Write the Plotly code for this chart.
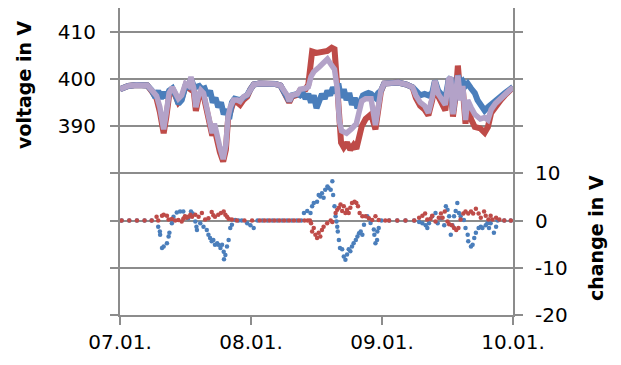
import plotly.graph_objects as go

# ---------------- data (time in hours since 07.01. 00:00) ----------------
day_ticks = [0, 24, 48, 72]
day_labels = ["07.01.", "08.01.", "09.01.", "10.01."]

# purple voltage series
t_purple = [0, 1.5, 3, 5, 5.8, 6.7, 7.3, 8.0, 8.5, 9.0, 9.6, 10.2, 10.7, 11.3, 12.0, 12.6, 13.0, 13.5,
            13.9, 14.4, 14.8, 15.3, 15.8, 16.4, 16.9, 17.3, 17.8, 18.3, 18.9, 19.4, 19.8, 20.2, 20.8,
            21.5, 22.0, 22.6, 23.3, 23.9, 24.5, 25.5, 27, 28.5, 29.4, 30.0, 30.6, 31.0, 31.5, 32.5,
            33.0, 34.0, 34.5, 35.0, 35.5, 36.5, 37.5, 38.0, 38.7, 39.3, 39.8, 40.2, 40.6, 41.5, 42.5,
            43.3, 43.7, 44.3, 45.0, 46.0, 46.8, 47.3, 47.8, 48.4, 49.5, 51, 52.5, 53.6, 54.2, 55,
            55.8, 56.5, 57.2, 57.7, 58.3, 59.0, 59.6, 60.2, 60.6, 61.0, 61.5, 61.9, 62.4, 62.8, 63.3,
            63.7, 64.3, 65.0, 66.0, 66.8, 67.4, 68.0, 68.8, 69.8, 70.5, 71.3, 72]
v_purple = [397.8, 398.5, 398.7, 398.6, 397.6, 396.4, 394, 389.3, 393, 397, 398.2, 397, 395.8, 396.5, 399,
            398.5, 400.4, 398, 394, 396.5, 397.6, 397, 394, 391.5, 388.5, 390.5, 387.5, 385.5, 383,
            386, 392, 394, 395.5, 395.5, 395.2, 396.2, 396.6, 397.8, 398.8, 399, 399, 398.9, 398.6,
            397.5, 396.6, 395.3, 396.5, 396.8, 397.8, 398, 398.3, 400.5, 401.5, 402.5, 403.8, 404.2,
            403, 402, 398, 391, 389, 388.5, 389.5, 390.5, 392.5, 395.3, 395.8, 395.8, 390.2, 394,
            397.5, 399, 399.2, 399.2, 398.8, 398.2, 396.5, 395, 394.3, 392.8, 396, 399.6, 396.8,
            395.5, 394.5, 399.8, 400.3, 392.5, 397, 400.7, 395.4, 398.5, 391.3, 395.5, 394, 392.5,
            391.5, 391.8, 391.3, 393.5, 394.8, 396, 396.8, 397.5, 398.2]

# red voltage series
t_red = [0, 1.5, 3, 5, 5.8, 6.7, 7.3, 8.0, 8.5, 9.0, 9.6, 10.2, 10.7, 11.3, 12.0, 12.6, 13.0, 13.5,
         13.9, 14.4, 14.8, 15.3, 15.8, 16.4, 16.9, 17.3, 17.8, 18.3, 18.9, 19.4, 19.8, 20.2, 20.8,
         21.5, 22.0, 22.6, 23.3, 23.9, 24.5, 25.5, 27, 28.5, 29.4, 30.0, 30.6, 31.0, 31.5, 32.5,
         33.0, 34.0, 34.5, 34.9, 35.2, 36, 37, 38, 38.8, 39.3, 39.7, 40.1, 40.5, 41, 41.6, 42.2,
         42.8, 43.3, 43.7, 44.3, 45, 45.6, 46.0, 46.8, 47.3, 47.8, 48.4, 49.5, 51, 52.5, 53.6,
         54.2, 55, 55.8, 56.5, 57.2, 57.7, 58.3, 59.0, 59.6, 60.2, 60.6, 61.0, 61.5, 61.9, 62.4,
         62.8, 63.3, 63.7, 64.3, 65.0, 66.0, 66.8, 67.4, 68.0, 68.8, 69.8, 70.5, 71.3, 72]
v_red = [397.8, 398.5, 398.7, 398.6, 397.4, 395.8, 393, 388.5, 392, 396.5, 397.8, 396.5, 395, 395.8,
         398.5, 398, 400, 397.5, 393.2, 396, 397.2, 396.5, 393.5, 390.5, 388, 389.5, 386.5, 384.5,
         382.5, 385, 391.5, 393.5, 395.2, 395, 394.5, 395.5, 396.2, 397.8, 398.8, 399, 399, 398.9,
         398.6, 397.3, 396.3, 395, 396.2, 396.6, 397.6, 397.8, 398.8, 403, 405.8, 405.5, 405.6,
         405.9, 406.6, 406.3, 400, 390, 386.5, 385.5, 386.5, 385, 386, 385.2, 387.5, 390, 391.5,
         392.2, 392.5, 389.3, 393, 397.3, 399, 399.2, 399.2, 398.8, 398.2, 396, 394.3, 393.5,
         392.3, 395.5, 399.4, 396.3, 394.5, 393.3, 399.5, 400, 392, 396.5, 402.8, 396, 398, 390.5,
         394.5, 391.5, 389.8, 389.5, 388.6, 389.8, 392.8, 394.3, 395.6, 396.5, 397.3, 398.2]

# blue voltage series
t_blue = [0, 1.5, 3, 5, 5.8, 6.5, 7.0, 7.5, 8.0, 8.5, 9.0, 9.6, 10.2, 10.7, 11.3, 12.0, 12.6, 13.0,
          13.5, 14.0, 14.5, 15, 15.5, 16, 16.5, 17, 17.5, 18, 18.5, 19, 19.5, 20.0, 20.5, 21, 22,
          22.6, 23.3, 23.9, 24.5, 25.5, 27, 28.5, 29.4, 30, 30.6, 31, 31.5, 32.5, 33, 33.5, 34,
          34.5, 35, 35.5, 36, 36.5, 37, 37.5, 38, 38.5, 39, 39.5, 40, 40.5, 41, 41.5, 42, 42.5, 43,
          43.5, 44, 44.5, 45, 45.5, 46, 46.8, 47.3, 47.8, 48.4, 49.5, 51, 52.5, 53.6, 54.2, 55,
          55.8, 56.5, 57.2, 57.7, 58.3, 59, 59.6, 60.2, 60.6, 61, 61.5, 61.9, 62.4, 62.8, 63.3,
          63.7, 64.3, 65, 65.5, 66, 66.8, 67.4, 68, 68.8, 69.8, 70.5, 71.3, 72]
v_blue = [397.8, 398.5, 398.7, 398.6, 397.6, 396, 397.5, 395.8, 397.2, 396, 397.5, 398, 396.5, 394.7,
          395.5, 398.5, 398.3, 400, 398.5, 398.3, 398.5, 397.8, 398, 396.5, 397.5, 395, 396, 394,
          395, 392.5, 393.5, 391.5, 395, 395.8, 395.5, 396.2, 396.6, 397.8, 398.8, 399, 399, 398.9,
          398.6, 397.5, 396.6, 395.3, 396.5, 396.8, 396.5, 397, 395.8, 396.8, 395, 396.5, 393.8,
          395.5, 396.8, 395.8, 397.5, 396.5, 398.2, 397, 399, 396, 397.8, 395.5, 397, 394.5, 396,
          393.8, 395, 396.5, 396.8, 397, 396.8, 396, 397, 397.5, 399, 399.2, 399.2, 398.8, 398.2,
          397.5, 396.5, 396.8, 396.5, 397, 399.6, 397.5, 396.3, 395.8, 399.8, 400.3, 393, 397.5,
          400.7, 399, 399.5, 398.5, 399, 398, 397, 395.5, 394.5, 393.3, 394, 394.5, 395.5, 396.3,
          397, 397.6, 398.3]

# change in V (blue dots)
t_dblue = [0.3, 1.7, 3.1, 4.5, 5.8, 7.0, 7.3, 7.35, 7.7, 8.0, 8.6, 8.9, 9.05, 9.5, 9.8, 10.4, 11.0,
           11.6, 11.9, 12.5, 13.0, 13.3, 13.8, 14.0, 14.1, 14.7, 15.3, 15.9, 16.2, 16.5, 16.8, 17.1,
           17.4, 17.8, 18.0, 18.4, 18.7, 19.0, 19.05, 19.3, 19.6, 19.9, 20.2, 20.5, 21.1, 21.7,
           22.3, 23.3, 23.9, 24.5, 25.2, 26.1, 27.0, 27.9, 28.8, 29.7, 30.6, 31.5, 32.4, 33.2,
           33.7, 34.3, 34.9, 35.2, 35.5, 36.1, 36.4, 36.7, 37.0, 37.3, 37.6, 38.0, 38.2, 38.6,
           38.9, 39.05, 39.3, 39.5, 39.66, 39.8, 39.9, 40.1, 40.3, 40.7, 41.0, 41.3, 41.6, 41.9,
           42.2, 42.5, 42.8, 43.2, 43.5, 43.8, 44.1, 44.4, 44.7, 45.3, 45.9, 46.5, 46.6, 46.8,
           47.1, 47.15, 47.4, 47.9, 49.3, 50.8, 52.3, 53.9, 54.8, 55.4, 56.0, 56.3, 56.6, 57.2,
           57.8, 58.2, 58.8, 59.4, 59.7, 60.0, 60.3, 60.6, 60.9, 61.2, 61.5, 61.8, 62.1, 62.4,
           63.0, 63.3, 63.7, 63.8, 64.3, 64.6, 64.9, 65.2, 65.7, 66.1, 66.4, 67.0, 67.3, 67.6,
           67.9, 68.5, 68.9, 69.2, 70.4, 71.6]
v_dblue = [0, 0, 0, 0, 0, -1.3, -2.3, -3.0, -5.8, -5.5, -4.8, -3.4, -2.6, -0.6, 0.8, 1.7, 1.9, 1.9,
           0.8, 0.5, 1.9, 1.5, -0.2, -1.3, -2.0, -0.6, -1.3, -2.0, -3.0, -3.7, -4.4, -4.1, -5.1,
           -4.8, -5.1, -5.8, -5.1, -6.6, -8.2, -7.3, -5.5, -4.1, -1.6, -0.9, 0.1, 0, 0, -0.6, -1.0,
           -1.6, 0, 0, 0, 0, 0, 0, 0, 0, 0, 0, 1.6, 2.0, 1.6, 3.0, 3.7, 4.0, 5.4, 5.1, 5.8, 4.8,
           6.5, 7.2, 6.9, 6.5, 8.3, 5.4, 3.0, 0.9, -0.2, -1.3, -2.3, -4.1, -5.8, -6.1, -7.6, -8.3,
           -7.2, -6.1, -6.5, -5.5, -4.8, -4.1, -3.4, -2.7, -2.3, -3.0, -0.9, 0.9, -0.5, -1.9, -3.0,
           -4.8, -4.1, -2.3, -1.6, 0, 0, 0, 0, 0, -0.3, -0.6, -1.0, -1.6, -0.6, 0.9, 1.6, -0.6,
           0.5, -1.0, 3.0, 2.3, 0.9, -3.0, -1.0, 0.9, 2.0, 3.7, 1.6, 0.9, 0.1, -1.6, -3.0, -4.4,
           -5.5, -5.1, -3.7, -2.6, -1.6, -1.3, -1.6, -1.0, -0.6, -1.6, -0.6, -2.6, -1.3, 0, 0, 0]

# change in V (red dots)
t_dred = [0.3, 1.7, 3.1, 4.5, 5.8, 6.7, 7.0, 7.7, 8.0, 8.6, 8.9, 9.5, 10.1, 10.7, 11.3, 11.6, 11.9,
          12.2, 12.5, 12.9, 13.2, 13.8, 14.4, 15.0, 15.6, 16.2, 16.8, 17.1, 17.4, 18.0, 18.5, 19.0,
          19.3, 19.6, 19.9, 20.5, 21.4, 22.8, 24.2, 25.6, 26.5, 27.4, 28.3, 29.2, 30.1, 31.0,
          31.9, 32.8, 33.8, 34.4, 34.8, 35.0, 35.2, 35.5, 35.8, 36.1, 36.4, 36.7, 37.0, 37.3,
          37.95, 38.6, 38.9, 39.5, 39.8, 40.1, 40.4, 40.7, 41.0, 41.3, 41.6, 41.9, 42.2, 42.5,
          42.97, 43.3, 43.6, 43.9, 44.4, 45.0, 45.6, 46.2, 46.8, 47.4, 48.6, 49.3, 50.8, 52.3,
          53.9, 54.8, 55.4, 55.9, 56.3, 56.9, 57.2, 57.8, 58.4, 58.8, 59.1, 59.5, 60.0, 60.3,
          60.8, 61.2, 61.6, 62.0, 62.4, 62.9, 63.3, 63.8, 64.3, 64.7, 65.2, 65.7, 66.1, 66.7,
          67.0, 67.5, 67.9, 68.2, 68.9, 69.5, 70.4, 71.6]
v_dred = [0, 0, 0, 0, 0, 0.8, 0, 1.0, 1.2, 1.0, 0.2, 0.3, 0, 0.1, -0.2, 0.4, 0.9, 0.6, 0.8, 1.2, 0.8,
          1.2, 0.8, 1.6, 0.2, 0.5, 1.8, 1.1, 0.8, 1.2, 1.6, 1.9, 1.2, 0.8, 0.4, 0.2, 0, 0, 0, 0, 0,
          0, 0, 0, 0, 0, 0, 0, 0, 0, 0, -0.6, -2.3, -1.6, -3.0, -3.7, -2.6, -3.4, -2.0, -1.3,
          -0.6, 0, -0.3, 1.6, 2.3, 2.7, 3.4, 2.0, 3.0, 1.6, 2.3, 1.6, 2.7, 3.7, 4.0, 3.7, 3.0, 1.6,
          0.9, 0.9, 0.5, 0.1, 0.9, 0.1, 0, 0, 0, 0, 0, 0.6, 1.0, 1.5, 0.2, 0.4, 1.0, -0.2, 0.6,
          1.5, 0.6, 1.9, -0.2, -0.8, -1.0, -1.6, -2.0, -1.6, 0.2, 1.5, 1.9, 1.5, 1.9, 1.5, 2.5,
          1.5, 0.6, 1.9, 1.0, 0.2, 1.0, 0.2, 0.6, 0.2, 0, 0]

left_ticks = [350, 360, 370, 380, 390, 400, 410]
left_labels = ["", "", "", "", "390", "400", "410"]
right_ticks = [-20, -10, 0, 10, 20, 30, 40]
right_labels = ["-20", "-10", "0", "10", "", "", ""]

BLUE = "#4A7EBB"
RED = "#BE4B48"
PURPLE = "#B3A2C8"
GRID = "#8C8C8C"
FONT = "DejaVu Sans"

fig = go.Figure()
fig.add_trace(go.Scatter(x=t_red, y=v_red, mode="lines", line=dict(color=RED, width=6), yaxis="y"))
fig.add_trace(go.Scatter(x=t_blue, y=v_blue, mode="lines", line=dict(color=BLUE, width=6), yaxis="y"))
fig.add_trace(go.Scatter(x=t_purple, y=v_purple, mode="lines", line=dict(color=PURPLE, width=5.5), yaxis="y"))
fig.add_trace(go.Scatter(x=t_dblue, y=v_dblue, mode="markers", marker=dict(color=BLUE, size=4.5), yaxis="y2"))
fig.add_trace(go.Scatter(x=t_dred, y=v_dred, mode="markers", marker=dict(color=RED, size=4.5), yaxis="y2"))

fig.update_layout(
    width=621, height=365,
    margin=dict(l=120, r=108, t=8, b=50),
    paper_bgcolor="white", plot_bgcolor="white",
    showlegend=False,
    font=dict(family=FONT, size=20, color="black"),
    xaxis=dict(range=[0, 72], tickvals=day_ticks, ticktext=day_labels, showgrid=False,
               showline=True, linecolor=GRID, linewidth=2, ticks="outside", ticklen=8,
               tickcolor=GRID, tickwidth=2, zeroline=False, tickfont=dict(size=20)),
    yaxis=dict(range=[350, 415], tickvals=left_ticks, ticktext=left_labels, showgrid=True,
               gridcolor=GRID, gridwidth=2, showline=True, linecolor=GRID, linewidth=2,
               ticks="outside", ticklen=8, tickcolor=GRID, tickwidth=2, zeroline=False,
               tickfont=dict(size=20), ticklabelstandoff=10),
    yaxis2=dict(range=[-20, 45], tickvals=right_ticks, ticktext=right_labels, overlaying="y",
                side="right", showgrid=False, showline=True, linecolor=GRID, linewidth=2,
                ticks="outside", ticklen=8, tickcolor=GRID, tickwidth=2, zeroline=False,
                tickfont=dict(size=20), ticklabelstandoff=8),
    annotations=[
        dict(text="<b>voltage in V</b>", x=24, y=85, showarrow=False, textangle=-90,
             font=dict(size=19)),
        dict(text="<b>change in V</b>", x=596, y=238, showarrow=False, textangle=-90,
             font=dict(size=19)),
    ],
)
# annotation positions given in pixels -> convert to paper coordinates
pw = 621 - 120 - 108
ph = 365 - 8 - 50
for a in fig.layout.annotations:
    px, py = a.x, a.y
    a.update(xref="paper", yref="paper", x=(px - 120) / pw, y=1 - (py - 8) / ph,
             xanchor="center", yanchor="middle")

fig.write_html("out.html")
